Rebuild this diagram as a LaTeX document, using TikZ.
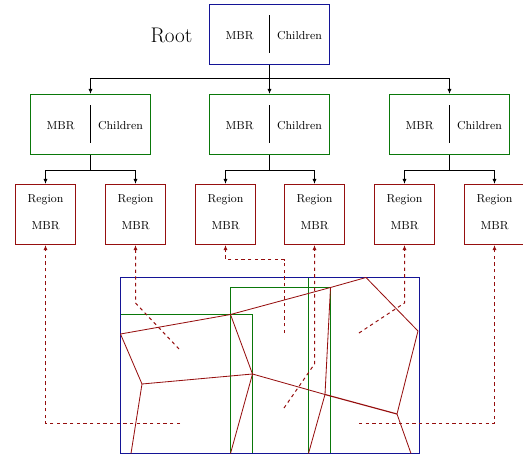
\documentclass[tikz,border=0pt]{standalone}
\usetikzlibrary{arrows.meta,calc}
\definecolor{rootblue}{RGB}{20,20,150}
\definecolor{nodegreen}{RGB}{10,120,10}
\definecolor{leafred}{RGB}{150,15,15}
\tikzset{
  rootbox/.style={draw=rootblue, line width=0.78pt, minimum width=93.6pt, minimum height=46.8pt, inner sep=0pt},
  innerbox/.style={draw=nodegreen, line width=0.78pt, minimum width=93.6pt, minimum height=46.8pt, inner sep=0pt},
  regbox/.style={draw=leafred, line width=0.78pt, minimum width=46.8pt, minimum height=46.8pt, inner sep=0pt},
  lbl/.style={font=\small, anchor=base, inner sep=0pt},
  divider/.style={line width=0.78pt},
  tree/.style={line width=0.7pt},
  treearr/.style={tree, -{Latex[length=4pt,width=3.2pt]}},
  ptr/.style={leafred, line width=0.78pt, dash pattern=on 2.6pt off 2.6pt, -{Latex[length=4pt,width=3.2pt]}},
  cell/.style={leafred, line width=0.65pt},
  mbrgreen/.style={nodegreen, line width=0.78pt},
  mbrblue/.style={rootblue, line width=0.78pt},
}
\begin{document}
\begin{tikzpicture}[x=0.78pt, y=-0.78pt]
\useasboundingbox (0,0) rectangle (523,457);

% ---- root entry ----
\node[font=\fontsize{16.5}{20}\selectfont, anchor=base, inner sep=0pt] (rootlbl) at (171.5,42) {Root};
\node[rootbox] (root) at (269.5,34.5) {};
\node[lbl] (rootm) at (239.5,39) {MBR};
\node[lbl] (rootc) at (299.5,39) {Children};
\draw[divider] (269.5,15) coordinate (rd1) -- (269.5,53) coordinate (rd2);

% ---- inner entries ----
\foreach \i/\x in {1/90.5, 2/269.5, 3/449.5} {
  \node[innerbox] (b\i) at (\x,124.5) {};
  \node[lbl] (b\i m) at (\x-30,129) {MBR};
  \node[lbl] (b\i c) at (\x+30,129) {Children};
  \draw[divider] (\x,105) coordinate (b\i d1) -- (\x,143) coordinate (b\i d2);
}

% ---- leaf regions ----
\foreach \i/\x in {1/45.5, 2/135.5, 3/225.5, 4/314.5, 5/404.5, 6/494.5} {
  \node[regbox] (r\i) at (\x,214.5) {};
  \node[lbl] (r\i a) at (\x,202.3) {Region};
  \node[lbl] (r\i b) at (\x,229) {MBR};
}

% ---- tree connectors ----
\coordinate (j0) at (269.5,78.5);
\draw[tree] (root.south) -- (j0);
\foreach \i in {1,2,3} \draw[treearr] (j0) -| (b\i.north);
\foreach \i/\a/\b in {1/1/2, 2/3/4, 3/5/6} {
  \coordinate (k\i) at ($(b\i.south)+(0,15)$);
  \draw[tree] (b\i.south) -- (k\i);
  \draw[treearr] (k\i) -| (r\a.north);
  \draw[treearr] (k\i) -| (r\b.north);
}

% ---- minimum bounding rectangles ----
\draw[mbrgreen] (120.5,314.5) rectangle (252.5,453.5);
\draw[mbrgreen] (230.5,287.5) rectangle (330.5,453.5);
\draw[mbrgreen] (308.5,277.5) rectangle (419.5,453.5);
\draw[mbrblue] (120.5,277.5) rectangle (419.5,453.5);

% ---- region cells ----
\coordinate (A) at (120.5,334);
\coordinate (B) at (230.5,314.5);
\coordinate (C) at (330.5,287.5);
\coordinate (D) at (366,277.5);
\coordinate (E) at (418,331);
\coordinate (F) at (397,414);
\coordinate (G) at (411,453.5);
\coordinate (H) at (325,394.5);
\coordinate (I) at (252.5,374);
\coordinate (J) at (142,384);
\coordinate (K) at (131,453.5);
\coordinate (L) at (230.5,453.5);
\coordinate (M) at (308.5,453.5);
\draw[cell] (A) -- (B) -- (C) -- (D) -- (E) -- (F) -- (G);
\draw[cell] (A) -- (J) -- (K);
\draw[cell] (B) -- (I) -- (L);
\draw[cell] (J) -- (I) -- (H);
\draw[cell] (C) -- (H) -- (M);
\draw[cell, line width=0.9pt] (H) -- (F);

% ---- pointers from regions to their entries ----
\coordinate (p1) at (180,423.5);
\coordinate (p2) at (179,349);
\coordinate (q2) at (135.5,303);
\coordinate (p3) at (284.5,333);
\coordinate (q3) at (225.5,259.5);
\coordinate (p4) at (284,408);
\coordinate (q4) at (314.5,364);
\coordinate (p5) at (359,333);
\coordinate (q5) at (404.5,303);
\coordinate (p6) at (359,423.5);
\draw[ptr] (p1) -| (r1.south);
\draw[ptr] (p2) -- (q2) -- (r2.south);
\draw[ptr] (p3) |- (q3) -- (r3.south);
\draw[ptr] (p4) -- (q4) -- (r4.south);
\draw[ptr] (p5) -- (q5) -- (r5.south);
\draw[ptr] (p6) -| (r6.south);
\end{tikzpicture}
\end{document}
